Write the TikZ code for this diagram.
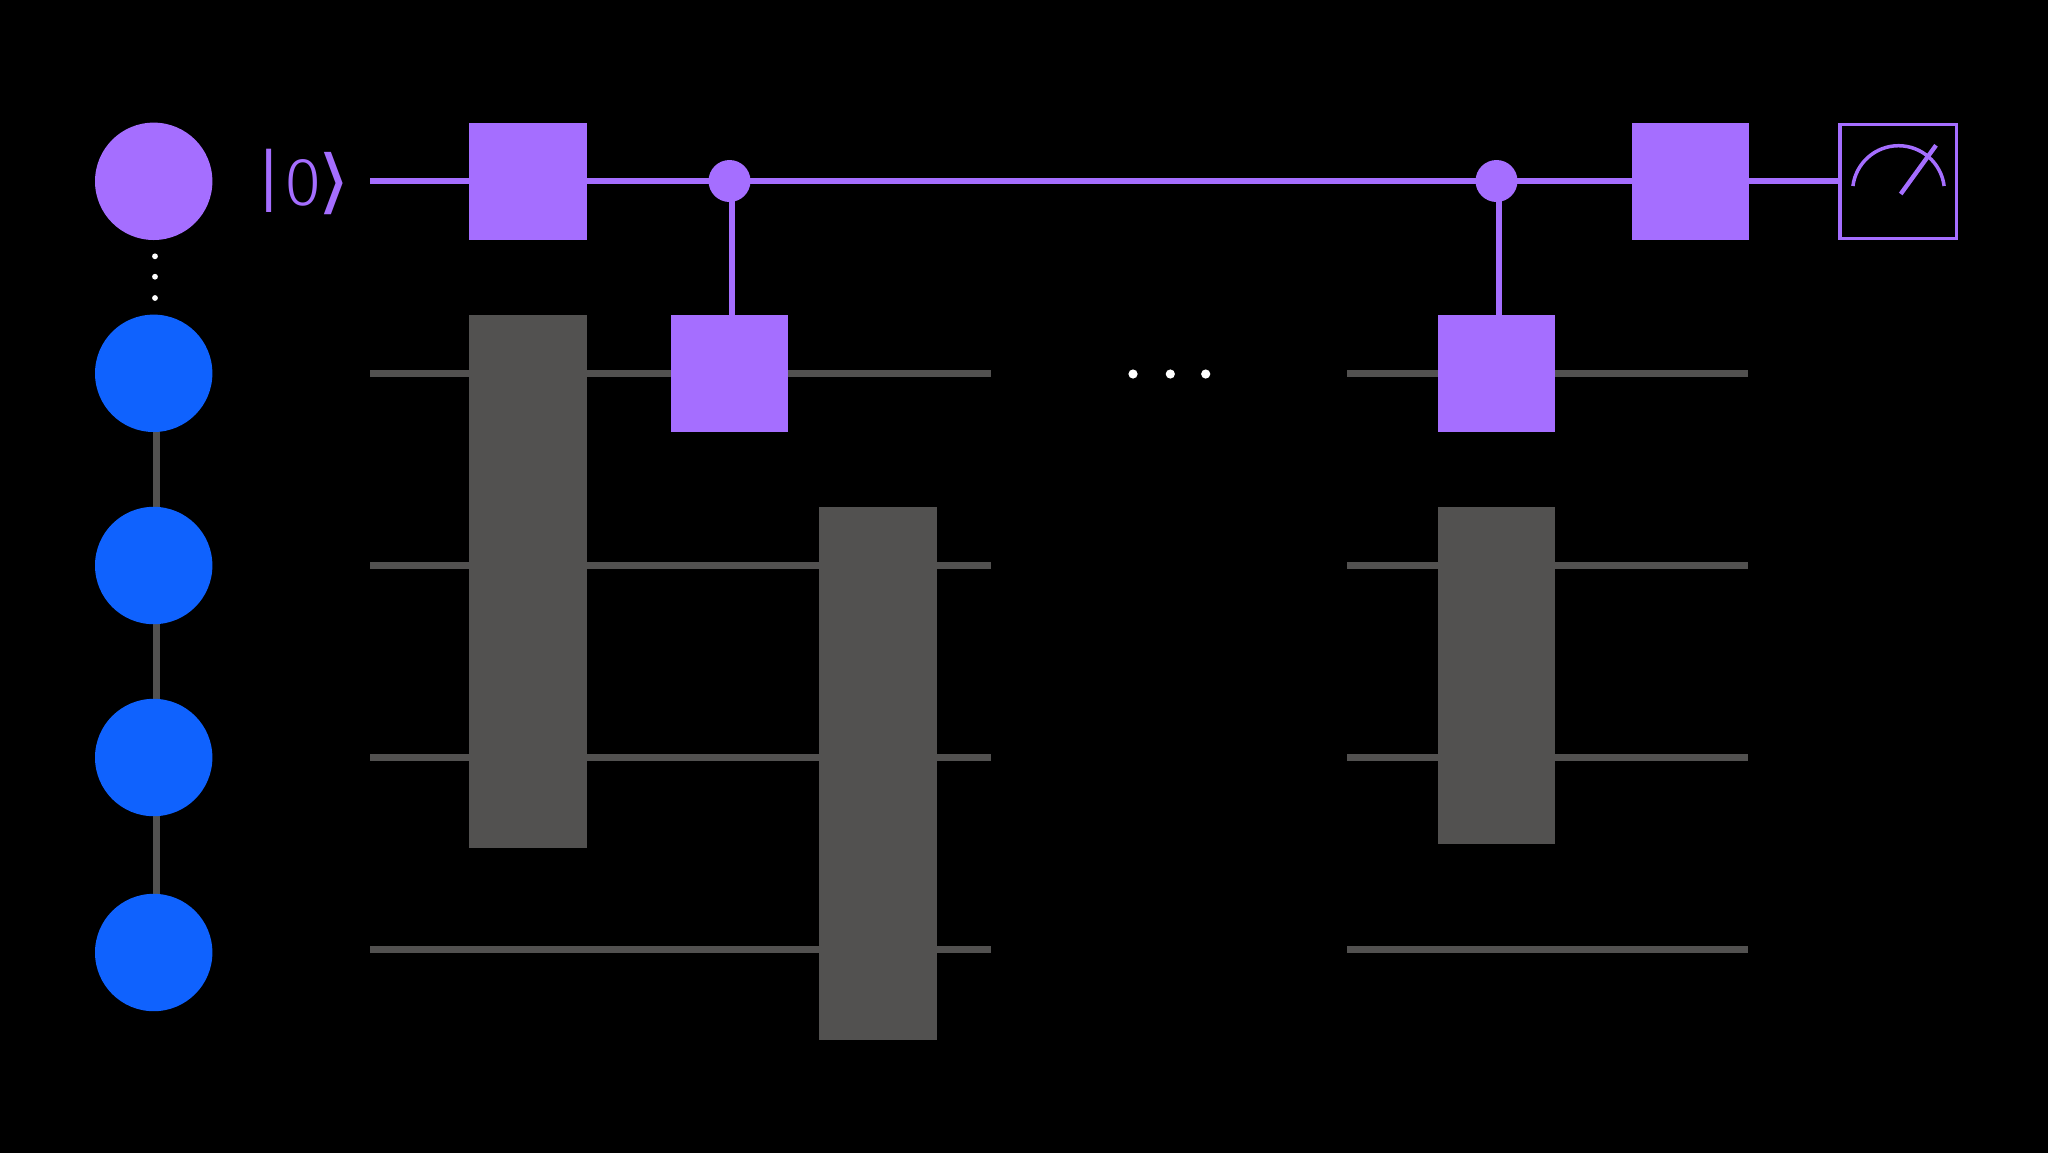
\documentclass[tikz,border=0pt]{standalone}
\usepackage{fontspec}
\usepackage{graphicx}
\newfontfamily\ketfont{Fira Sans Light}
\newfontfamily\ketsym{DejaVu Sans}
\definecolor{qpurple}{HTML}{A56EFF}
\definecolor{qblue}{HTML}{0F62FE}
\definecolor{qgray}{HTML}{525150}
\pgfdeclarelayer{wires}
\pgfdeclarelayer{paper}
\pgfsetlayers{paper,wires,main}
\tikzset{
  qubitp/.style={circle,fill=qpurple,inner sep=0,outer sep=0,minimum size=58.7pt},
  qubitb/.style={circle,fill=qblue,inner sep=0,outer sep=0,minimum size=58.7pt},
  gatep/.style={rectangle,fill=qpurple,inner sep=0,outer sep=0,minimum width=58.65pt,minimum height=58.7pt},
  gateg/.style={rectangle,fill=qgray,inner sep=0,outer sep=0,minimum width=58.65pt},
  ctrl/.style={circle,fill=qpurple,inner sep=0,outer sep=0,minimum size=21pt},
  dotbig/.style={circle,fill=white,inner sep=0,outer sep=0,minimum size=4.6pt},
  dotsmall/.style={circle,fill=white,inner sep=0,outer sep=0,minimum size=2.9pt},
  wirep/.style={draw=qpurple,line width=3pt},
  wireg/.style={draw=qgray,line width=3.7pt},
  chain/.style={draw=qgray,line width=3.5pt},
  meterbox/.style={rectangle,draw=qpurple,line width=1.75pt,inner sep=0,outer sep=0,minimum width=58.4pt,minimum height=57pt},
  metermark/.style={draw=qpurple,line width=1.75pt},
  meterneedle/.style={draw=qpurple,line width=2.2pt},
}
\begin{document}
\begin{tikzpicture}[x=0.5pt,y=-0.5pt]
\useasboundingbox (0,0) rectangle (2048,1152);
\begin{pgfonlayer}{paper}
\fill[black] (-10,-10) rectangle (2060,1165);
\end{pgfonlayer}

% qubits
\node[qubitp] (q0) at (153.7,181.3) {};
\node[qubitb] (q1) at (153.7,373.3) {};
\node[qubitb] (q2) at (153.7,565.5) {};
\node[qubitb] (q3) at (153.7,757.5) {};
\node[qubitb] (q4) at (153.7,952.5) {};
\node[dotsmall] (d1) at (155,256.3) {};
\node[dotsmall] (d2) at (155,276.7) {};
\node[dotsmall] (d3) at (155,298) {};
\coordinate (cx) at (156.4,0);

% ket
\node[text=qpurple,inner sep=0,anchor=west] (ket) at (250,181.5)
  {\ketfont\fontsize{34}{34}\selectfont\scalebox{1.35}[1.03]{|}\kern -1.5pt 0\kern -2.5pt\ketsym\scalebox{1.25}[1.03]{⟩}};

% gates
\node[gatep] (g1) at (527.9,181.3) {};
\node[gateg,minimum height=266.6pt] (g2) at (527.9,581.3) {};
\node[gatep] (g3) at (729.5,373.3) {};
\node[gateg,minimum height=266.6pt] (g4) at (878,773.3) {};
\node[ctrl] (c1) at (729.5,181) {};
\coordinate (cl1) at (732,0);
\node[ctrl] (c2) at (1496.5,181) {};
\coordinate (cl2) at (1499,0);
\node[gatep] (g5) at (1496.5,373.3) {};
\node[gateg,minimum height=168.5pt] (g6) at (1496.5,675.2) {};
\node[gatep] (g7) at (1690.65,181.3) {};
\node[meterbox] (m) at (1898.2,181.3) {};
\node[dotbig] (e1) at (1133,374) {};
\node[dotbig] (e2) at (1170.3,374) {};
\node[dotbig] (e3) at (1205.7,374) {};

% wire ends
\coordinate (p0) at (370,181);
\foreach \n/\y in {1/373.3,2/565.5,3/757.5,4/949.2}{
  \coordinate (a\n) at (370,\y);
  \coordinate (b\n) at (990.7,\y);
  \coordinate (s\n) at (1347.3,\y);
  \coordinate (t\n) at (1748,\y);
}

\begin{pgfonlayer}{wires}
\draw[chain] (cx |- q1.center) -- (cx |- q2.center);
\draw[chain] (cx |- q2.center) -- (cx |- q3.center);
\draw[chain] (cx |- q3.center) -- (cx |- q4.center);
\draw[wirep] (p0) -- (m.west |- p0);
\draw[wirep] (cl1 |- c1.center) -- (cl1 |- g3.north);
\draw[wirep] (cl2 |- c2.center) -- (cl2 |- g5.north);
\foreach \n in {1,2,3,4}{
  \draw[wireg] (a\n) -- (b\n);
  \draw[wireg] (s\n) -- (t\n);
}
\end{pgfonlayer}

% meter dial
\draw[metermark] (1852.9,186) .. controls (1855.8,163) and (1875.3,145.7) .. (1898.5,145.7)
  .. controls (1921.7,145.7) and (1941.2,163) .. (1944.1,186);
\draw[meterneedle] (1900.7,194) -- (1936,145.3);
\end{tikzpicture}
\end{document}
